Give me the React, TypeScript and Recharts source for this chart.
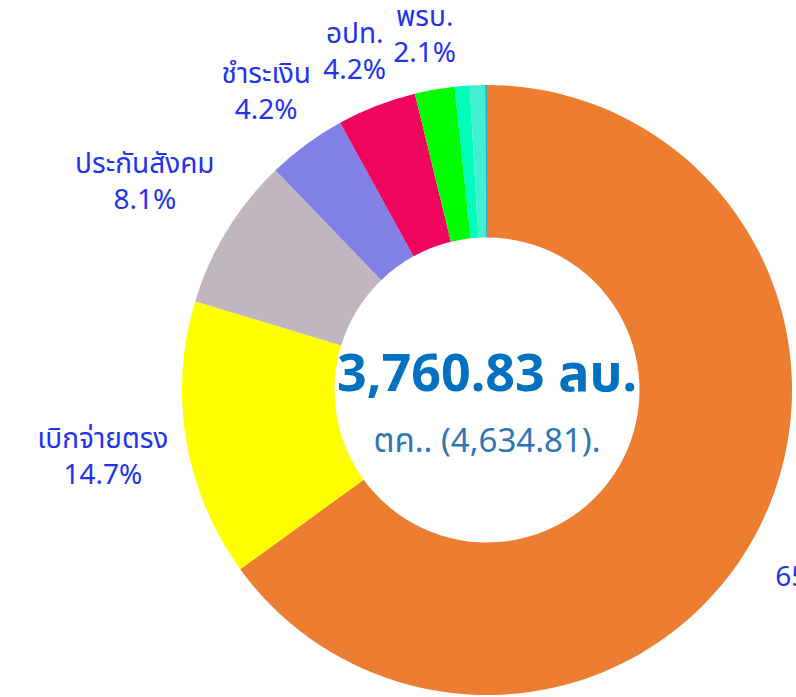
import React from 'react';
import { PieChart, Pie, Cell } from 'recharts';

const categories = ['', 'เบิกจ่ายตรง', 'ประกันสังคม', 'ชำระเงิน', 'อปท.', 'พรบ.', 'อื่นๆ 1', 'อื่นๆ 2', 'อื่นๆ 3'];
const values = [65.0, 14.7, 8.1, 4.2, 4.2, 2.1, 0.8, 0.8, 0.1];
const colors = ['#ED7D31', '#FFFF00', '#C0B6C0', '#8080E6', '#F0055E', '#00FF00', '#00FFBB', '#40F0D0', '#30B0C0'];
const centerTitle = '3,760.83 ลบ.';
const centerSubtitle = 'ตค.. (4,634.81).';

const data = categories.map((name, i) => ({ name, value: values[i] }));
const total = values.reduce((a, b) => a + b, 0);

const CX = 487;
const CY = 390;
const FONT = "'Noto Sans', 'Noto Sans Thai', 'Loma', 'Garuda', sans-serif";
const LABEL_SIZE = 28;
const LABEL_COLOR = '#2233F0';
const LINE_GAP = 18;
const OFFSET = 14;
const BOX_H = 86;
const PAD = 8;

let ctx: CanvasRenderingContext2D | null = null;
function measure(text: string, size: number): number {
  if (!ctx) {
    const c = document.createElement('canvas');
    ctx = c.getContext('2d');
  }
  if (!ctx) return text.length * size * 0.55;
  ctx.font = `${size}px ${FONT}`;
  return ctx.measureText(text).width;
}

const renderLabel = (props: any) => {
  const { cx, cy, midAngle, outerRadius, index } = props;
  const pct = (values[index] / total) * 100;
  if (pct < 1) return null;
  const name = categories[index];
  const pctText = `${pct.toFixed(1)}%`;
  const w = Math.max(measure(name, LABEL_SIZE), measure(pctText, LABEL_SIZE)) + PAD;
  const rad = (midAngle * Math.PI) / 180;
  const vx = Math.cos(rad);
  const vy = -Math.sin(rad);
  const ex = Math.abs(vx) > 1e-6 ? w / 2 / Math.abs(vx) : Infinity;
  const ey = Math.abs(vy) > 1e-6 ? BOX_H / 2 / Math.abs(vy) : Infinity;
  const extent = Math.min(ex, ey);
  const r = outerRadius + OFFSET + extent;
  const x = cx + vx * r;
  const y = cy + vy * r;
  return (
    <g key={`lbl-${index}`}>
      {name ? (
        <text x={x} y={y - LINE_GAP} textAnchor="middle" dominantBaseline="central" fill={LABEL_COLOR} fontSize={LABEL_SIZE} fontFamily={FONT}>
          {name}
        </text>
      ) : null}
      <text x={x} y={y + LINE_GAP} textAnchor="middle" dominantBaseline="central" fill={LABEL_COLOR} fontSize={LABEL_SIZE} fontFamily={FONT}>
        {pctText}
      </text>
    </g>
  );
};

export default function App() {
  return (
    <div style={{ position: 'absolute', left: 0, top: 0, width: 796, height: 697, background: '#fff', overflow: 'hidden' }}>
      <div style={{ position: 'absolute', left: 0, top: 0 }}>
        <PieChart width={900} height={697} margin={{ top: 0, right: 0, bottom: 0, left: 0 }}>
          <Pie
            data={data}
            dataKey="value"
            nameKey="name"
            cx={CX}
            cy={CY}
            innerRadius={152.5}
            outerRadius={305}
            startAngle={90}
            endAngle={-270}
            stroke="none"
            label={renderLabel}
            labelLine={false}
            isAnimationActive={false}
          >
            {data.map((_, i) => (
              <Cell key={`c-${i}`} fill={colors[i]} />
            ))}
          </Pie>
        </PieChart>
      </div>
      <svg width={796} height={697} style={{ position: 'absolute', left: 0, top: 0, pointerEvents: 'none' }}>
        <text x={CX} y={CY - 20} textAnchor="middle" dominantBaseline="central" fill="#0070C0" fontSize={52} fontWeight="bold" fontFamily={FONT}>
          {centerTitle}
        </text>
        <text x={CX} y={CY + 49} textAnchor="middle" dominantBaseline="central" fill="#2E75B6" fontSize={33} fontFamily={FONT}>
          {centerSubtitle}
        </text>
      </svg>
    </div>
  );
}
